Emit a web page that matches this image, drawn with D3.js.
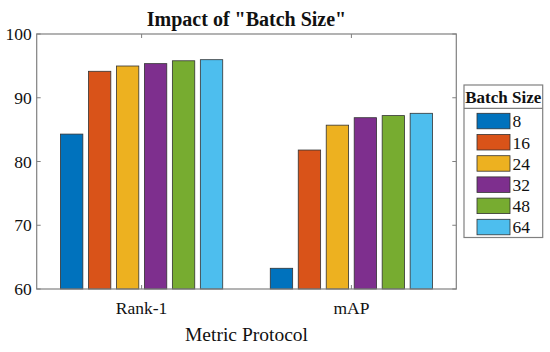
<!DOCTYPE html>
<html>
<head>
<meta charset="utf-8">
<script src="https://cdn.jsdelivr.net/npm/d3@7"></script>
<style>
  body { margin: 0; background: #fff; }
  text { font-family: "Liberation Serif", "Times New Roman", serif; fill: #111; }
</style>
</head>
<body>
<div id="chart-area"></div>
<script>
// data
var protocols = ["Rank-1", "mAP"];
var batchSizes = ["8", "16", "24", "32", "48", "64"];
var rank1 = [84.3, 94.15, 94.98, 95.35, 95.8, 95.97];
var mAP = [63.25, 81.8, 85.7, 86.87, 87.2, 87.56];
var yTicks = [60, 70, 80, 90, 100];
var colors = ["#0072BD", "#D95319", "#EDB120", "#7E2F8E", "#77AC30", "#4DBEEE"];

var W = 550, H = 352;
var plotLeft = 36.7, plotRight = 456.3, plotTop = 34, plotBottom = 289;
var serif = '"Liberation Serif", "Times New Roman", serif';

var svg = d3.select("#chart-area")
    .append("svg")
    .attr("width", W)
    .attr("height", H);

// Scales
var x0 = d3.scaleBand().domain(protocols).range([plotLeft, plotRight]).padding(0);
var x1 = d3.scaleBand().domain(batchSizes)
    .range([-x0.bandwidth() * 0.4, x0.bandwidth() * 0.4])
    .paddingInner(0.2).paddingOuter(0.1);
var y = d3.scaleLinear().domain([60, 100]).range([plotBottom, plotTop]);

var rows = protocols.map(function(p, i) {
    var vals = i === 0 ? rank1 : mAP;
    return { protocol: p, values: batchSizes.map(function(b, j) { return { size: b, value: vals[j], idx: j }; }) };
});

// Bars
var groups = svg.selectAll(".grp").data(rows).enter()
    .append("g")
    .attr("class", "grp")
    .attr("transform", function(d) { return "translate(" + (x0(d.protocol) + x0.bandwidth() / 2) + ",0)"; });

groups.selectAll("rect").data(function(d) { return d.values; }).enter()
    .append("rect")
    .attr("x", function(d) { return x1(d.size); })
    .attr("width", x1.bandwidth())
    .attr("y", function(d) { return y(d.value); })
    .attr("height", function(d) { return plotBottom - y(d.value); })
    .attr("fill", function(d) { return colors[d.idx]; })
    .attr("stroke", "#333")
    .attr("stroke-width", 0.8);

// Axes (box with inward ticks)
var axisColor = "#808080";
var yAxis = svg.append("g")
    .attr("transform", "translate(" + plotLeft + ",0)")
    .call(d3.axisLeft(y).tickValues(yTicks).tickSize(0).tickPadding(5));
yAxis.select(".domain").remove();
yAxis.attr("font-family", null);
yAxis.selectAll("text")
    .style("font-family", serif).style("font-size", "17.5px").style("fill", "#111");

var xAxis = svg.append("g")
    .attr("transform", "translate(0," + plotBottom + ")")
    .call(d3.axisBottom(x0).tickSize(0).tickPadding(13));
xAxis.select(".domain").remove();
xAxis.attr("font-family", null);
xAxis.selectAll("text")
    .style("font-family", serif).style("font-size", "17.5px").style("fill", "#111");

var box = svg.append("g").attr("stroke", axisColor).attr("fill", "none");
box.append("rect")
    .attr("x", plotLeft).attr("y", plotTop)
    .attr("width", plotRight - plotLeft).attr("height", plotBottom - plotTop)
    .attr("stroke-width", 1.2);

yTicks.forEach(function(t) {
    box.append("line").attr("x1", plotLeft).attr("x2", plotLeft + 4).attr("y1", y(t)).attr("y2", y(t));
    box.append("line").attr("x1", plotRight).attr("x2", plotRight - 4).attr("y1", y(t)).attr("y2", y(t));
});
protocols.forEach(function(p) {
    var cx = x0(p) + x0.bandwidth() / 2;
    box.append("line").attr("x1", cx).attr("x2", cx).attr("y1", plotBottom).attr("y2", plotBottom - 4);
    box.append("line").attr("x1", cx).attr("x2", cx).attr("y1", plotTop).attr("y2", plotTop + 4);
});

// Title and label
svg.append("text")
    .attr("x", (plotLeft + plotRight) / 2)
    .attr("y", 26)
    .attr("text-anchor", "middle")
    .style("font-family", serif)
    .style("font-size", "20px")
    .style("font-weight", "bold")
    .text('Impact of "Batch Size"');

svg.append("text")
    .attr("x", (plotLeft + plotRight) / 2)
    .attr("y", 341)
    .attr("text-anchor", "middle")
    .style("font-family", serif)
    .style("font-size", "19.5px")
    .text("Metric Protocol");

// Legend
var lg = svg.append("g").attr("transform", "translate(464,85)");
lg.append("rect")
    .attr("width", 78.7).attr("height", 152.5)
    .attr("fill", "#fff").attr("stroke", axisColor).attr("stroke-width", 1.2);
lg.append("line")
    .attr("x1", 0).attr("x2", 78.7).attr("y1", 23.3).attr("y2", 23.3)
    .attr("stroke", axisColor).attr("stroke-width", 1.2);
lg.append("text")
    .attr("x", 39.3).attr("y", 18)
    .attr("text-anchor", "middle")
    .style("font-family", serif)
    .style("font-size", "17px")
    .style("font-weight", "bold")
    .text("Batch Size");

var items = lg.selectAll(".item").data(batchSizes).enter()
    .append("g")
    .attr("class", "item")
    .attr("transform", function(d, i) { return "translate(13," + (28.3 + i * 21.2) + ")"; });
items.append("rect")
    .attr("width", 33).attr("height", 15.5)
    .attr("fill", function(d, i) { return colors[i]; })
    .attr("stroke", "#333").attr("stroke-width", 0.8);
items.append("text")
    .attr("x", 35.5).attr("y", 14)
    .style("font-family", serif)
    .style("font-size", "17.5px")
    .text(function(d) { return d; });
</script>
</body>
</html>
